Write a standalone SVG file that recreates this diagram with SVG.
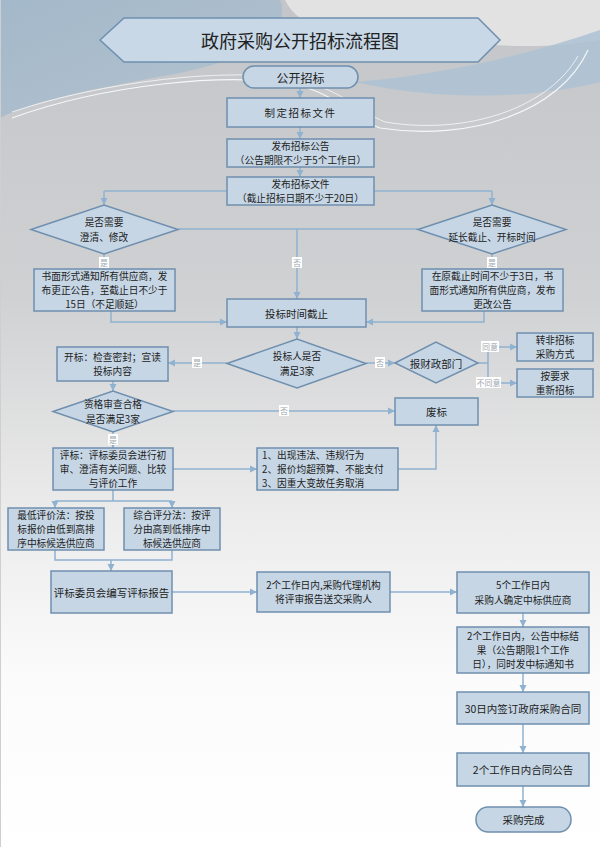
<svg xmlns="http://www.w3.org/2000/svg" width="600" height="847" viewBox="0 0 600 847">
<defs>
<linearGradient id="bg" x1="0" y1="0" x2="0" y2="1">
<stop offset="0" stop-color="#c3c5c8"/>
<stop offset="0.35" stop-color="#d0d1d3"/>
<stop offset="0.6" stop-color="#ebebeb"/>
<stop offset="0.8" stop-color="#fbfbfb"/>
<stop offset="1" stop-color="#ffffff"/>
</linearGradient>
<linearGradient id="tl" x1="0" y1="0" x2="1" y2="1">
<stop offset="0" stop-color="#a3b8ca"/>
<stop offset="1" stop-color="#b4c3cf"/>
</linearGradient>
<marker id="ar" markerWidth="8" markerHeight="8" refX="7" refY="4" orient="auto" markerUnits="userSpaceOnUse">
<path d="M0,0.5 L7,4 L0,7.5 Z" fill="#8fb2d0"/>
</marker>
<style>
.box{fill:#c6d6e5;stroke:#6f8fae;stroke-width:1.5}
.t{font-family:"Noto Sans CJK SC","Noto Sans",sans-serif;font-size:10.5px;fill:#222;text-anchor:middle;dominant-baseline:central}
.m{font-size:9.7px}
.tl{font-family:"Noto Sans CJK SC","Noto Sans",sans-serif;font-size:9.7px;fill:#222;dominant-baseline:central}
.c{fill:none;stroke:#8fb2d0;stroke-width:1.5}
.a{marker-end:url(#ar)}
.lb{fill:#ffffff}
.lt{font-family:"Noto Sans CJK SC","Noto Sans",sans-serif;font-size:8px;fill:#a0a8b0;text-anchor:middle;dominant-baseline:central}
</style>
</defs>
<g id="background">
<rect x="0" y="0" width="600" height="847" fill="url(#bg)"/>
<path d="M285,0 H600 V40 C 520,55 420,38 335,30 C 305,26 292,14 285,0 Z" fill="#e2e2e2"/>
<path d="M0,0 H280 C 292,30 255,58 180,73 C 110,86 40,98 0,118 Z" fill="url(#tl)"/>
<path d="M355,82 C 430,76 520,58 600,30 V82 C 540,98 440,102 355,82 Z" fill="#adc2d3" opacity="0.85"/>
<path d="M12,118 C 100,86 230,70 300,86 C 340,96 355,120 380,128 C 470,142 560,112 588,50" fill="none" stroke="#ffffff" stroke-width="1.2" opacity="0.85"/>
<path d="M12,112 C 100,82 230,66 300,80 C 345,92 360,112 385,122 C 470,136 550,106 578,56" fill="none" stroke="#ffffff" stroke-width="1" opacity="0.7"/>
<line x1="0.5" y1="0" x2="0.5" y2="847" stroke="#cfcfcf" stroke-width="1"/>
</g>
<g id="connectors">
<path class="c a" d="M300,88 V98"/>
<path class="c a" d="M300,127 V139"/>
<path class="c a" d="M300,167 V177"/>
<path class="c" d="M104,191 H492"/>
<path class="c a" d="M104,191 V205"/>
<path class="c a" d="M492,191 V205"/>
<path class="c" d="M178,229 H418"/>
<path class="c a" d="M297,229 V299"/>
<path class="c a" d="M104,254 V269"/>
<path class="c a" d="M492,254 V269"/>
<path class="c a" d="M111,311 V322 H227"/>
<path class="c a" d="M484,311 V322 H366"/>
<path class="c a" d="M297,327 V339"/>
<path class="c a" d="M227,363 H168"/>
<path class="c a" d="M366,363 H395"/>
<path class="c" d="M478,363 H488 M488,347 V383"/>
<path class="c a" d="M488,347 H517"/>
<path class="c a" d="M488,383 H517"/>
<path class="c a" d="M113,381 V391"/>
<path class="c a" d="M173,411 H395"/>
<path class="c a" d="M113,432 V448"/>
<path class="c a" d="M173,469 H257"/>
<path class="c a" d="M398,469 H436 V425"/>
<path class="c" d="M113,490 V501 M55,501 H172"/>
<path class="c a" d="M55,501 V508"/>
<path class="c a" d="M172,501 V508"/>
<path class="c" d="M55,550 V560 H172 V550"/>
<path class="c a" d="M111,560 V571"/>
<path class="c a" d="M172,592 H257"/>
<path class="c a" d="M390,592 H457"/>
<path class="c a" d="M523,613 V627"/>
<path class="c a" d="M523,673 V692"/>
<path class="c a" d="M523,724 V753"/>
<path class="c a" d="M523,786 V807"/>
<g id="labels">
<rect class="lb" x="99" y="257" width="10" height="11"/><text class="lt" x="104" y="262.5">是</text>
<rect class="lb" x="292" y="257" width="10" height="11"/><text class="lt" x="297" y="262.5">否</text>
<rect class="lb" x="487" y="257" width="10" height="11"/><text class="lt" x="492" y="262.5">是</text>
<rect class="lb" x="192" y="357" width="10" height="11"/><text class="lt" x="197" y="362.5">是</text>
<rect class="lb" x="375" y="357" width="10" height="11"/><text class="lt" x="380" y="362.5">否</text>
<rect class="lb" x="481" y="341" width="18" height="11"/><text class="lt" x="490" y="346.5">同意</text>
<rect class="lb" x="476" y="377" width="25" height="11"/><text class="lt" x="488.5" y="382.5">不同意</text>
<rect class="lb" x="279" y="405" width="10" height="11"/><text class="lt" x="284" y="410.5">否</text>
<rect class="lb" x="108" y="434" width="10" height="11"/><text class="lt" x="113" y="439.5">是</text>
</g>
</g>
<g id="title">
<polygon points="100,40 124,18 478,18 500,40 478,62 124,62" fill="#c8d8e7" stroke="#6f8fae" stroke-width="1.5"/>
<text class="t" x="300" y="40" style="font-size:18px">政府采购公开招标流程图</text>
</g>
<g id="start">
<rect class="box" x="243" y="66" width="115" height="22" rx="11"/>
<text class="t" x="300.5" y="77" style="font-size:12px">公开招标</text>
</g>
<g id="make-docs">
<rect class="box" x="227" y="98" width="147" height="29"/>
<text class="t" x="300.5" y="112.5" style="letter-spacing:1.5px">制定招标文件</text>
</g>
<g id="publish-notice">
<rect class="box" x="227" y="139" width="147" height="28"/>
<text class="t m" x="300.5" y="145.95">发布招标公告</text>
<text class="t m" x="300.5" y="160.05">（公告期限不少于5个工作日）</text>
</g>
<g id="publish-docs">
<rect class="box" x="227" y="177" width="147" height="28"/>
<text class="t m" x="300.5" y="183.95">发布招标文件</text>
<text class="t m" x="300.5" y="198.05">（截止招标日期不少于20日）</text>
</g>
<g id="d-clarify">
<polygon class="box" points="31,229.5 104,205 178,229.5 104,254"/>
<text class="t m" x="104" y="222.45">是否需要</text>
<text class="t m" x="104" y="236.55">澄清、修改</text>
</g>
<g id="d-extend">
<polygon class="box" points="418,229.5 492,205 566,229.5 492,254"/>
<text class="t m" x="492" y="222.45">是否需要</text>
<text class="t m" x="492" y="236.55">延长截止、开标时间</text>
</g>
<g id="notify-left">
<rect class="box" x="34" y="269" width="141" height="42"/>
<text class="t m" x="104.5" y="275.9">书面形式通知所有供应商，发</text>
<text class="t m" x="104.5" y="290">布更正公告，至截止日不少于</text>
<text class="t m" x="104.5" y="304.1">15日（不足顺延）</text>
</g>
<g id="notify-right">
<rect class="box" x="422" y="269" width="141" height="42"/>
<text class="t m" x="492.5" y="275.9">在原截止时间不少于3日，书</text>
<text class="t m" x="492.5" y="290">面形式通知所有供应商，发布</text>
<text class="t m" x="492.5" y="304.1">更改公告</text>
</g>
<g id="deadline">
<rect class="box" x="227" y="299" width="139" height="28"/>
<text class="t" x="296.5" y="313">投标时间截止</text>
</g>
<g id="d-bidders">
<polygon class="box" points="227,363.5 297,339 366,363.5 297,388"/>
<text class="t m" x="297" y="356.45">投标人是否</text>
<text class="t m" x="297" y="370.55">满足3家</text>
</g>
<g id="opening">
<rect class="box" x="57" y="347" width="111" height="34"/>
<text class="t m" x="112.5" y="356.95">开标：检查密封；宣读</text>
<text class="t m" x="112.5" y="371.05">投标内容</text>
</g>
<g id="d-finance">
<polygon class="box" points="395,363 436,342 478,363 436,383"/>
<text class="t" x="436" y="363">报财政部门</text>
</g>
<g id="non-tender">
<rect class="box" x="517" y="333" width="76" height="28"/>
<text class="t m" x="555" y="339.95">转非招标</text>
<text class="t m" x="555" y="354.05">采购方式</text>
</g>
<g id="re-tender">
<rect class="box" x="517" y="369" width="76" height="28"/>
<text class="t m" x="555" y="375.95">按要求</text>
<text class="t m" x="555" y="390.05">重新招标</text>
</g>
<g id="d-qualify">
<polygon class="box" points="53,411.5 113,391 173,411.5 113,432"/>
<text class="t m" x="113" y="404.45">资格审查合格</text>
<text class="t m" x="113" y="418.55">是否满足3家</text>
</g>
<g id="void">
<rect class="box" x="395" y="398" width="83" height="27"/>
<text class="t" x="436.5" y="411.5">废标</text>
</g>
<g id="evaluation">
<rect class="box" x="53" y="448" width="120" height="42"/>
<text class="t m" x="113" y="454.9">评标：评标委员会进行初</text>
<text class="t m" x="113" y="469">审、澄清有关问题、比较</text>
<text class="t m" x="113" y="483.1">与评价工作</text>
</g>
<g id="void-reasons">
<rect class="box" x="257" y="448" width="141" height="42"/>
<text class="tl" x="262" y="454.9">1、出现违法、违规行为</text>
<text class="tl" x="262" y="469">2、报价均超预算、不能支付</text>
<text class="tl" x="262" y="483.1">3、因重大变故任务取消</text>
</g>
<g id="lowest-price">
<rect class="box" x="8" y="508" width="96" height="42"/>
<text class="t m" x="56" y="514.9">最低评价法：按投</text>
<text class="t m" x="56" y="529">标报价由低到高排</text>
<text class="t m" x="56" y="543.1">序中标候选供应商</text>
</g>
<g id="composite-score">
<rect class="box" x="124" y="508" width="96" height="42"/>
<text class="t m" x="172" y="514.9">综合评分法：按评</text>
<text class="t m" x="172" y="529">分由高到低排序中</text>
<text class="t m" x="172" y="543.1">标候选供应商</text>
</g>
<g id="report">
<rect class="box" x="51" y="571" width="121" height="42"/>
<text class="t" x="111.5" y="592">评标委员会编写评标报告</text>
</g>
<g id="send-report">
<rect class="box" x="257" y="572" width="133" height="40"/>
<text class="t m" x="323.5" y="584.95">2个工作日内,采购代理机构</text>
<text class="t m" x="323.5" y="599.05">将评审报告送交采购人</text>
</g>
<g id="confirm-winner">
<rect class="box" x="457" y="572" width="132" height="41"/>
<text class="t m" x="523" y="585.45">5个工作日内</text>
<text class="t m" x="523" y="599.55">采购人确定中标供应商</text>
</g>
<g id="announce-result">
<rect class="box" x="457" y="627" width="132" height="46"/>
<text class="t m" x="523" y="635.9">2个工作日内，公告中标结</text>
<text class="t m" x="523" y="650">果（公告期限1个工作</text>
<text class="t m" x="523" y="664.1">日），同时发中标通知书</text>
</g>
<g id="contract">
<rect class="box" x="457" y="692" width="132" height="32"/>
<text class="t" x="523" y="708">30日内签订政府采购合同</text>
</g>
<g id="contract-notice">
<rect class="box" x="457" y="753" width="132" height="33"/>
<text class="t" x="523" y="769.5">2个工作日内合同公告</text>
</g>
<g id="end">
<rect class="box" x="476" y="807" width="95" height="25" rx="12"/>
<text class="t" x="523.5" y="819.5">采购完成</text>
</g>
</svg>
